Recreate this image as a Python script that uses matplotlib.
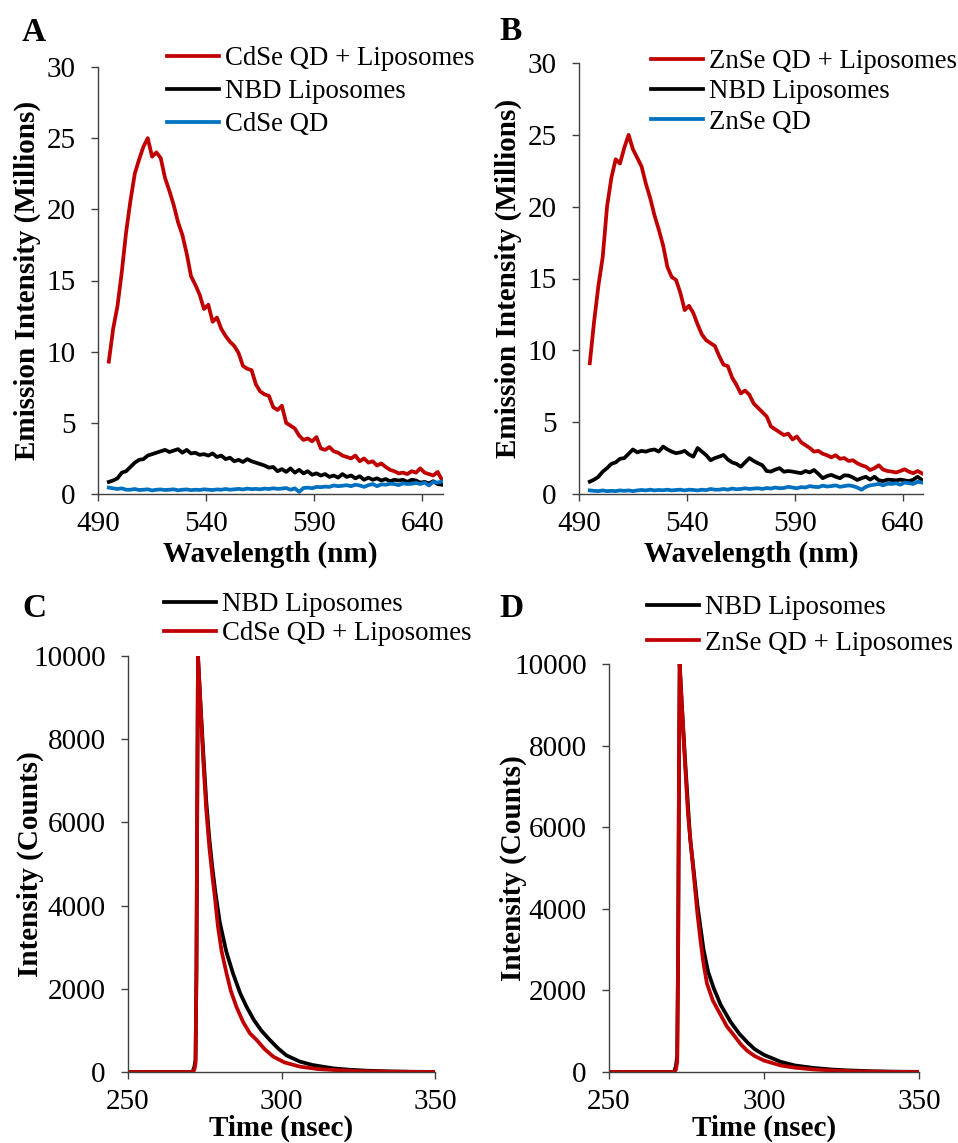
import numpy as np
import matplotlib
matplotlib.use("Agg")
import matplotlib.pyplot as plt

plt.rcParams['font.family'] = ['Liberation Serif', 'DejaVu Serif']

# ---------------- Data ----------------
wavelength = np.arange(495, 650, 2)  # nm sample grid

cdse_liposomes = [9.3, 11.6, 13.2, 15.6, 18.4, 20.6, 22.5, 23.5, 24.4, 25.0,
                  23.7, 24.0, 23.6, 22.2, 21.3, 20.3, 19.1, 18.2, 16.9, 15.3,
                  14.7, 14.0, 13.0, 13.3, 12.1, 12.4, 11.6, 11.1, 10.7, 10.4,
                  9.9, 9.0, 8.8, 8.7, 7.7, 7.2, 7.0, 6.9, 6.1, 5.9,
                  6.2, 5.0, 4.8, 4.6, 4.1, 3.8, 3.9, 3.7, 4.0, 3.2,
                  3.1, 3.3, 3.0, 2.9, 2.7, 2.6, 2.5, 2.7, 2.3, 2.5,
                  2.2, 2.3, 2.0, 2.15, 1.9, 1.7, 1.6, 1.45, 1.5, 1.4,
                  1.6, 1.5, 1.8, 1.5, 1.4, 1.3, 1.55, 1.0]
nbd_liposomes_a = [0.85, 0.95, 1.1, 1.5, 1.6, 1.9, 2.2, 2.4, 2.45, 2.7,
                   2.8, 2.9, 3.0, 3.1, 2.95, 3.05, 3.15, 2.9, 3.1, 2.85,
                   2.9, 2.75, 2.8, 2.7, 2.85, 2.6, 2.7, 2.45, 2.55, 2.3,
                   2.4, 2.25, 2.45, 2.3, 2.2, 2.1, 2.0, 1.85, 1.9, 1.6,
                   1.75, 1.55, 1.8, 1.5, 1.7, 1.45, 1.6, 1.35, 1.45, 1.3,
                   1.4, 1.2, 1.3, 1.15, 1.4, 1.2, 1.3, 1.1, 1.25, 1.0,
                   1.15, 1.0, 1.1, 0.95, 1.05, 0.9, 1.0, 0.95, 1.0, 0.85,
                   1.0, 0.95, 0.8, 0.85, 0.75, 0.9, 0.7, 0.65]
cdse_qd = [0.45, 0.4, 0.35, 0.4, 0.3, 0.3, 0.35, 0.28, 0.3, 0.33,
           0.25, 0.3, 0.32, 0.28, 0.3, 0.33, 0.26, 0.3, 0.32, 0.27,
           0.3, 0.28, 0.33, 0.3, 0.28, 0.32, 0.3, 0.35, 0.3, 0.33,
           0.36, 0.32, 0.38, 0.34, 0.36, 0.33, 0.38, 0.35, 0.4, 0.36,
           0.38, 0.42, 0.3, 0.4, 0.15, 0.42, 0.45, 0.4, 0.5, 0.48,
           0.52, 0.5, 0.6, 0.55, 0.58, 0.62, 0.55, 0.65, 0.6, 0.5,
           0.62, 0.7, 0.55, 0.68, 0.65, 0.72, 0.7, 0.62, 0.75, 0.7,
           0.72, 0.78, 0.7, 0.8, 0.6, 0.85, 0.8, 0.88]

znse_liposomes = [9.1, 12.0, 14.5, 16.5, 20.0, 22.0, 23.3, 23.0, 24.1, 25.0,
                  24.0, 23.4, 22.8, 21.6, 20.6, 19.4, 18.4, 17.3, 15.8, 15.1,
                  14.9, 14.0, 12.8, 13.1, 12.6, 11.8, 11.1, 10.7, 10.5, 10.3,
                  9.6, 9.0, 8.9, 8.1, 7.6, 7.0, 7.2, 6.9, 6.3, 6.0,
                  5.7, 5.4, 4.7, 4.5, 4.3, 4.1, 4.2, 3.8, 4.0, 3.6,
                  3.4, 3.2, 2.95, 3.0, 2.8, 2.7, 2.55, 2.7, 2.45, 2.5,
                  2.3, 2.35, 2.14, 2.0, 1.9, 1.67, 1.8, 2.0, 1.7, 1.6,
                  1.56, 1.5, 1.6, 1.72, 1.55, 1.45, 1.6, 1.44]
nbd_liposomes_b = [0.86, 1.0, 1.2, 1.56, 1.8, 2.1, 2.2, 2.45, 2.5, 2.8,
                   3.1, 2.9, 3.0, 2.95, 3.05, 3.1, 2.95, 3.3, 3.1, 2.95,
                   2.84, 2.9, 3.0, 2.75, 2.6, 3.2, 2.95, 2.7, 2.35, 2.5,
                   2.6, 2.72, 2.4, 2.2, 2.1, 1.9, 2.2, 2.5, 2.3, 2.14,
                   2.0, 1.6, 1.56, 1.7, 1.8, 1.55, 1.6, 1.56, 1.5, 1.45,
                   1.6, 1.5, 1.67, 1.4, 1.1, 1.25, 1.33, 1.2, 1.1, 1.3,
                   1.28, 1.15, 0.98, 1.1, 1.2, 1.0, 1.2, 0.95, 0.9, 1.0,
                   0.98, 0.95, 1.0, 0.95, 0.9, 1.0, 1.2, 0.98]
znse_qd = [0.25, 0.22, 0.2, 0.25, 0.2, 0.22, 0.2, 0.25, 0.22, 0.25,
           0.2, 0.25, 0.28, 0.25, 0.3, 0.25, 0.28, 0.26, 0.3, 0.25,
           0.28, 0.3, 0.25, 0.3, 0.28, 0.25, 0.3, 0.27, 0.35, 0.3,
           0.3, 0.35, 0.3, 0.38, 0.33, 0.35, 0.4, 0.35, 0.38, 0.4,
           0.35, 0.42, 0.38, 0.45, 0.4, 0.42, 0.5, 0.45, 0.4, 0.48,
           0.45, 0.55, 0.5, 0.48, 0.58, 0.52, 0.55, 0.6, 0.5, 0.55,
           0.6, 0.55, 0.45, 0.3, 0.5, 0.6, 0.65, 0.7, 0.6, 0.72,
           0.7, 0.75, 0.65, 0.8, 0.75, 0.7, 0.85, 0.8]

# Time-resolved decays (C)
t_nbd_c = [250, 265, 271.0, 271.6, 272.0, 272.3, 272.6, 272.8, 273.5, 274.5, 275.5,
           276.5, 277.5, 278.5, 279.9, 282, 284.2, 286.5, 288.6, 291, 293.5, 296.2,
           299, 301.6, 306, 310, 316.8, 322, 327.7, 335, 342, 350]
cnt_nbd_c = [0, 0, 0, 120, 300, 2500, 7000, 10000, 9000, 7700, 6500,
             5600, 4900, 4300, 3600, 2900, 2370, 1900, 1570, 1250, 990, 770,
             560, 400, 250, 170, 88, 55, 32, 15, 6, 2]
t_cdse_c = [250, 265, 271.0, 271.6, 272.0, 272.3, 272.6, 272.8, 273.5, 274.5, 275.5,
            276.5, 277.5, 278.3, 279.3, 280.5, 282.1, 283.5, 285.3, 287.5, 289.7,
            291.9, 294.5, 297.3, 301, 306, 312, 317, 325, 335, 350]
cnt_cdse_c = [0, 0, 0, 50, 200, 2500, 7500, 10000, 9000, 7500, 6300,
              5400, 4700, 4200, 3500, 2900, 2370, 1950, 1570, 1200, 930,
              770, 550, 370, 230, 128, 70, 48, 20, 8, 0]

# Time-resolved decays (D)
t_nbd_d = [250, 265, 271.0, 271.6, 272.0, 272.3, 272.6, 272.8, 273.5, 274.5, 275.5,
           276.2, 277.3, 278.5, 280.5, 282, 283.8, 286, 289.2, 292, 294.6, 297,
           300, 305.4, 310, 316.2, 322, 327, 335, 342, 350]
cnt_nbd_d = [0, 0, 0, 150, 400, 3000, 7500, 10000, 9000, 7700, 6500,
             5700, 4950, 4100, 3000, 2450, 2050, 1650, 1230, 940, 730, 560,
             420, 250, 160, 98, 60, 40, 18, 8, 3]
t_znse_d = [250, 265, 271.0, 271.6, 272.0, 272.3, 272.6, 272.8, 273.5, 274.5, 275.5,
            277.3, 278.5, 279.5, 280.5, 281.6, 283.5, 286, 288, 290.3, 292.5,
            294.6, 297, 300, 305.4, 310, 316, 323, 330, 340, 350]
cnt_znse_d = [0, 0, 0, 60, 250, 3000, 7800, 10000, 9000, 7600, 6300,
              4865, 3900, 3230, 2650, 2168, 1750, 1400, 1120, 900, 680,
              520, 390, 280, 160, 105, 62, 33, 15, 5, 0]

RED = '#C00000'
BLACK = '#000000'
BLUE = '#0070C0'
SPINE = '#404040'
LW = 2.7
TICK_FS = 21
LEG_FS = 19.3
LAB_FS = 21

fig = plt.figure(figsize=(9.58, 11.43), dpi=100)


def style(ax, xpad):
    for s in ['top', 'right']:
        ax.spines[s].set_visible(False)
    for s in ['left', 'bottom']:
        ax.spines[s].set_color(SPINE)
        ax.spines[s].set_linewidth(1.0)
    ax.tick_params(direction='out', length=5, width=1.0, color=SPINE,
                   labelsize=TICK_FS)
    ax.tick_params(axis='y', pad=11)
    ax.tick_params(axis='x', pad=xpad)


def W(px):
    return px / 958.0


def H(py):
    return 1 - py / 1143.0


# Panel A
axA = fig.add_axes([W(98), H(494), W(443 - 98), H(67) - H(494)])
axA.plot(wavelength, cdse_liposomes, color=RED, lw=LW, label='CdSe QD + Liposomes')
axA.plot(wavelength, nbd_liposomes_a, color=BLACK, lw=LW, label='NBD Liposomes')
axA.plot(wavelength, cdse_qd, color=BLUE, lw=LW, label='CdSe QD')

# Panel B
axB = fig.add_axes([W(579), H(494), W(923 - 579), H(63) - H(494)])
axB.plot(wavelength, znse_liposomes, color=RED, lw=LW, label='ZnSe QD + Liposomes')
axB.plot(wavelength, nbd_liposomes_b, color=BLACK, lw=LW, label='NBD Liposomes')
axB.plot(wavelength, znse_qd, color=BLUE, lw=LW, label='ZnSe QD')

for ax in (axA, axB):
    style(ax, 7)
    ax.set_xlim(490, 649.5)
    ax.set_ylim(0, 30)
    ax.set_xticks([490, 540, 590, 640])
    ax.set_yticks([0, 5, 10, 15, 20, 25, 30])
    ax.set_xlabel('Wavelength (nm)', fontsize=LAB_FS, fontweight='bold', labelpad=3)
    ax.set_ylabel('Emission Intensity (Millions)', fontsize=LAB_FS, fontweight='bold', labelpad=4)

# Panel C
axC = fig.add_axes([W(128), H(1072), W(435 - 128), H(656) - H(1072)])
axC.plot(t_nbd_c, cnt_nbd_c, color=BLACK, lw=LW, label='NBD Liposomes')
axC.plot(t_cdse_c, cnt_cdse_c, color=RED, lw=LW, label='CdSe QD + Liposomes')

# Panel D
axD = fig.add_axes([W(609), H(1072), W(919 - 609), H(664) - H(1072)])
axD.plot(t_nbd_d, cnt_nbd_d, color=BLACK, lw=LW, label='NBD Liposomes')
axD.plot(t_znse_d, cnt_znse_d, color=RED, lw=LW, label='ZnSe QD + Liposomes')

for ax, lp in ((axC, -7.5), (axD, -9.5)):
    style(ax, 7)
    ax.set_xlim(250, 350)
    ax.set_ylim(0, 10000)
    ax.set_xticks([250, 300, 350])
    ax.set_yticks([0, 2000, 4000, 6000, 8000, 10000])
    ax.set_xlabel('Time (nsec)', fontsize=LAB_FS, fontweight='bold', labelpad=0)
    ax.set_ylabel('Intensity (Counts)', fontsize=LAB_FS, fontweight='bold', labelpad=lp)

for ax in (axA, axB, axC, axD):
    for lab in ax.get_xticklabels() + ax.get_yticklabels():
        lab.set_fontsize(TICK_FS)


def legend(ax, x, y, spacing):
    ax.legend(loc='upper left', bbox_to_anchor=(W(x), H(y)), bbox_transform=fig.transFigure,
              frameon=False, fontsize=LEG_FS, handlelength=1.95, handletextpad=0.2,
              borderpad=0, borderaxespad=0, labelspacing=spacing)


legend(axA, 167, 46, 0.3)
legend(axB, 651, 49, 0.2)
legend(axC, 164, 592, 0.15)
legend(axD, 647, 595, 0.4)

# Panel letters
for letter, x, y in [('A', 34, 41), ('B', 511, 40), ('C', 34, 617), ('D', 512, 617)]:
    fig.text(W(x), H(y), letter, fontsize=24, fontweight='bold', ha='center', va='baseline')

fig.savefig('out.png', dpi=100)
